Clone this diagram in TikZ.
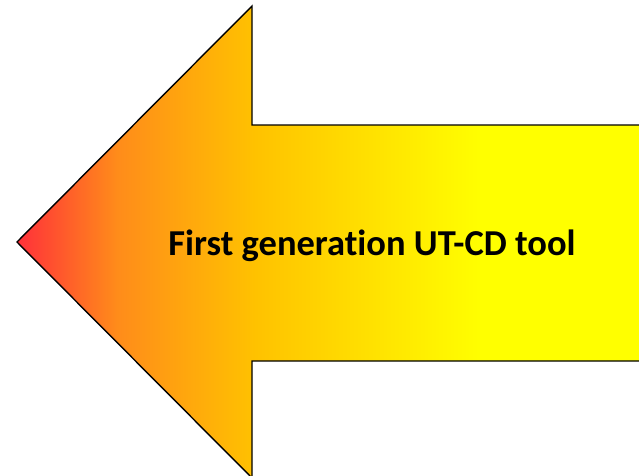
\documentclass[tikz,border=0pt]{standalone}
\usepackage{fontspec}
\setmainfont{Carlito}[Ligatures=NoCommon]
\usetikzlibrary{positioning}

\definecolor{tipred}{RGB}{255,48,58}
\definecolor{midorange}{RGB}{255,140,26}
\definecolor{goldish}{RGB}{255,194,0}
\definecolor{lightgold}{RGB}{255,228,0}
\definecolor{pureyellow}{RGB}{255,255,0}
\pgfdeclarehorizontalshading{arrowfill}{100bp}{%
    color(0bp)=(tipred);
    color(25bp)=(tipred);
    color(33bp)=(midorange);
    color(44bp)=(goldish);
    color(54bp)=(lightgold);
    color(62bp)=(pureyellow);
    color(100bp)=(pureyellow)}

\begin{document}
\begin{tikzpicture}[
            x=1pt, y=1pt,
            bigarrow/.style={
                shading=arrowfill,
                draw=black,
                line width=1.4pt,
                line join=miter
            },
            label/.style={
                font=\bfseries\fontsize{36.5}{40}\selectfont,
                text=black,
                anchor=base
            }
        ]
        \useasboundingbox (0, 0) rectangle (639, 475);
        % the arrow, pointing left, shaft running off the right edge
        \def\tipx{17}
        \def\midy{233}
        \def\neckx{252}
        \draw[bigarrow] (645, 350) -- (\neckx, 350) -- (\neckx, 469) -- (\tipx, \midy)
            -- (\neckx, -3) -- (\neckx, 114) -- (645, 114);
        \node[label] (caption) at (372, 220) {First generation UT-CD tool};
    \end{tikzpicture}
\end{document}
